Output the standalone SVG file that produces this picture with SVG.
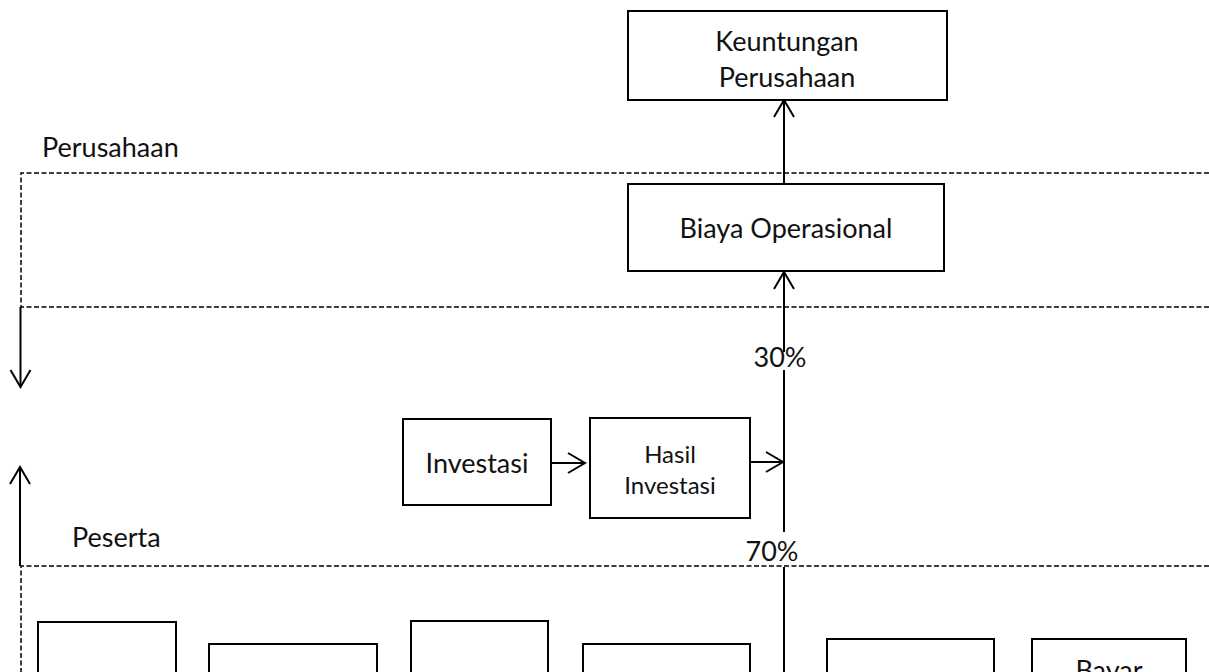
<svg xmlns="http://www.w3.org/2000/svg" width="1209" height="672" viewBox="0 0 1209 672">
  <style>
    .box { fill: #fff; stroke: #000; stroke-width: 2; }
    .dash { fill: none; stroke: #000; stroke-width: 1.5; stroke-dasharray: 5 2.5; }
    .line { fill: none; stroke: #000; stroke-width: 2; }
    .arrow { fill: none; stroke: #000; stroke-width: 2; marker-end: url(#open); }
    text { font-family: Lato, "Liberation Sans", sans-serif; font-size: 27px; fill: #111; }
    .c { text-anchor: middle; }
    .sm { font-size: 24px; }
  </style>
  <defs>
    <marker id="open" markerUnits="userSpaceOnUse" markerWidth="30" markerHeight="30" refX="0" refY="0" viewBox="-20 -15 30 30" orient="auto" overflow="visible">
      <path d="M -17 -10 L 0 0 L -17 10" fill="none" stroke="#000" stroke-width="2"/>
    </marker>
  </defs>
  <rect width="1209" height="672" fill="#fff"/>

  <!-- zone boundaries -->
  <g id="zones">
    <path class="dash" d="M 1209 173 H 21 V 307 H 1209"/>
    <path class="dash" d="M 1209 566 H 21 V 672"/>
    <text x="42" y="157">Perusahaan</text>
    <text x="72" y="547">Peserta</text>
  </g>

  <!-- connectors -->
  <g id="connectors">
    <path class="arrow" d="M 784 188 V 100"/>
    <path class="arrow" d="M 784 352 V 272"/>
    <path class="line" d="M 784 370 V 532"/>
    <path class="line" d="M 784 567 V 672"/>
    <path class="arrow" d="M 551 463 H 585"/>
    <path class="arrow" d="M 749 462 H 783"/>
    <path class="arrow" d="M 20.5 307 V 387"/>
    <path class="arrow" d="M 20 566 V 467"/>
    <text class="c" x="780" y="367">30%</text>
    <text class="c" x="772" y="561">70%</text>
  </g>

  <g id="keuntungan">
    <rect class="box" x="628" y="11" width="319" height="89"/>
    <text class="c" x="787" y="51">Keuntungan</text>
    <text class="c" x="787" y="87">Perusahaan</text>
  </g>

  <g id="biaya-operasional">
    <rect class="box" x="628" y="184" width="316" height="87"/>
    <text class="c" x="786" y="238">Biaya Operasional</text>
  </g>

  <g id="investasi">
    <rect class="box" x="403" y="419" width="148" height="86"/>
    <text class="c" x="477" y="473">Investasi</text>
  </g>

  <g id="hasil-investasi">
    <rect class="box" x="590" y="418" width="160" height="100"/>
    <text class="c sm" x="670" y="463">Hasil</text>
    <text class="c sm" x="670" y="494">Investasi</text>
  </g>

  <g id="peserta-1"><rect class="box" x="38" y="622" width="138" height="80"/></g>
  <g id="peserta-2"><rect class="box" x="209" y="644" width="168" height="80"/></g>
  <g id="peserta-3"><rect class="box" x="411" y="621" width="137" height="80"/></g>
  <g id="peserta-4"><rect class="box" x="583" y="644" width="167" height="80"/></g>
  <g id="peserta-5"><rect class="box" x="827" y="639" width="167" height="80"/></g>
  <g id="bayar">
    <rect class="box" x="1032" y="639" width="154" height="80"/>
    <text class="c" x="1109" y="680">Bayar</text>
  </g>
</svg>
